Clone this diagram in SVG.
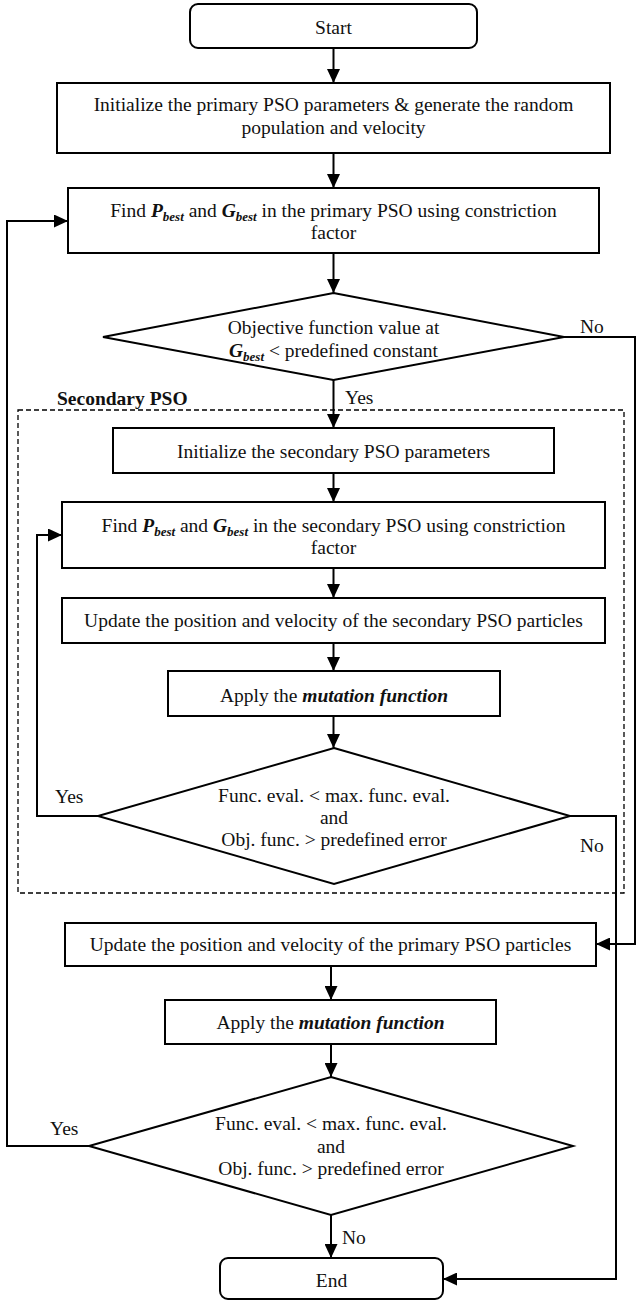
<svg xmlns="http://www.w3.org/2000/svg" width="638" height="1301" viewBox="0 0 638 1301">
<style>
.bx{fill:#fff;stroke:#000;stroke-width:2}
.cn{fill:none;stroke:#000;stroke-width:2}
.t{font-family:"Liberation Serif","Times New Roman",serif;font-size:19.5px;fill:#111;text-anchor:middle}
.l{font-family:"Liberation Serif","Times New Roman",serif;font-size:19.5px;fill:#111}
.bi{font-weight:bold;font-style:italic}
.sub{font-size:13px;font-weight:bold;font-style:italic}
.dash{fill:none;stroke:#000;stroke-width:1.3;stroke-dasharray:5,3}
</style>
<defs>
<marker id="ah" markerUnits="userSpaceOnUse" markerWidth="15" markerHeight="13" refX="14" refY="6.5" orient="auto">
<path d="M0,0 L14,6.5 L0,13 z" fill="#000"/>
</marker>
</defs>
<rect class="dash" x="18" y="410" width="606" height="483"/>
<text class="l" x="57" y="405" font-weight="bold">Secondary PSO</text>
<g id="connectors">
<path class="cn" d="M333.5,48 V83" marker-end="url(#ah)"/>
<path class="cn" d="M333.5,153 V188" marker-end="url(#ah)"/>
<path class="cn" d="M333.5,253 V293" marker-end="url(#ah)"/>
<path class="cn" d="M333.5,380 V428" marker-end="url(#ah)"/>
<path class="cn" d="M333.5,473 V502" marker-end="url(#ah)"/>
<path class="cn" d="M333.5,568 V598" marker-end="url(#ah)"/>
<path class="cn" d="M333.5,643 V671" marker-end="url(#ah)"/>
<path class="cn" d="M333.5,716 V748" marker-end="url(#ah)"/>
<path class="cn" d="M98,816 H37 V535 H62" marker-end="url(#ah)"/>
<path class="cn" d="M570,816 H616 V1279 H443" marker-end="url(#ah)"/>
<path class="cn" d="M564,337 H635 V944 H596" marker-end="url(#ah)"/>
<path class="cn" d="M331,966 V1000" marker-end="url(#ah)"/>
<path class="cn" d="M331,1044 V1077" marker-end="url(#ah)"/>
<path class="cn" d="M89,1146 H7 V221 H68" marker-end="url(#ah)"/>
<path class="cn" d="M331,1215 V1258" marker-end="url(#ah)"/>
<text class="l" x="580" y="333">No</text>
<text class="l" x="345" y="404">Yes</text>
<text class="l" x="55" y="803">Yes</text>
<text class="l" x="580" y="852">No</text>
<text class="l" x="50" y="1135">Yes</text>
<text class="l" x="342" y="1244">No</text>
</g>
<g id="start">
<rect class="bx" x="190" y="4" width="287" height="44" rx="8"/>
<text class="t" x="333.5" y="33.5">Start</text>
</g>
<g id="init-primary">
<rect class="bx" x="57" y="83" width="553" height="70"/>
<text class="t" x="333.5" y="110.5">Initialize the primary PSO parameters &amp; generate the random</text>
<text class="t" x="333.5" y="133.5">population and velocity</text>
</g>
<g id="find-primary">
<rect class="bx" x="68" y="188" width="531" height="65"/>
<text class="t" x="333.5" y="216.5">Find <tspan class="bi">P</tspan><tspan class="sub" dy="4">best</tspan><tspan dy="-4"> and </tspan><tspan class="bi">G</tspan><tspan class="sub" dy="4">best</tspan><tspan dy="-4"> in the primary PSO using constriction</tspan></text>
<text class="t" x="333.5" y="238.5">factor</text>
</g>
<g id="decision-objective">
<polygon class="bx" points="333.5,293 564,337 333.5,380 103,337"/>
<text class="t" x="333.5" y="333.5">Objective function value at</text>
<text class="t" x="333.5" y="356.5"><tspan class="bi">G</tspan><tspan class="sub" dy="4">best</tspan><tspan dy="-4"> &lt; predefined constant</tspan></text>
</g>
<g id="init-secondary">
<rect class="bx" x="113" y="428" width="441" height="45"/>
<text class="t" x="333.5" y="457.5">Initialize the secondary PSO parameters</text>
</g>
<g id="find-secondary">
<rect class="bx" x="62" y="502" width="543" height="66"/>
<text class="t" x="333.5" y="531.5">Find <tspan class="bi">P</tspan><tspan class="sub" dy="4">best</tspan><tspan dy="-4"> and </tspan><tspan class="bi">G</tspan><tspan class="sub" dy="4">best</tspan><tspan dy="-4"> in the secondary PSO using constriction</tspan></text>
<text class="t" x="333.5" y="553.5">factor</text>
</g>
<g id="update-secondary">
<rect class="bx" x="62" y="598" width="543" height="45"/>
<text class="t" x="333.5" y="626.5">Update the position and velocity of the secondary PSO particles</text>
</g>
<g id="mutation-secondary">
<rect class="bx" x="168" y="671" width="332" height="45"/>
<text class="t" x="334" y="701.5">Apply the <tspan class="bi">mutation function</tspan></text>
</g>
<g id="decision-secondary">
<polygon class="bx" points="334,748 570,816 334,884 98,816"/>
<text class="t" x="334" y="801.5">Func. eval. &lt; max. func. eval.</text>
<text class="t" x="334" y="823.5">and</text>
<text class="t" x="334" y="845.5">Obj. func. &gt; predefined error</text>
</g>
<g id="update-primary">
<rect class="bx" x="65" y="923" width="531" height="43"/>
<text class="t" x="330.5" y="950.5">Update the position and velocity of the primary PSO particles</text>
</g>
<g id="mutation-primary">
<rect class="bx" x="165" y="1000" width="331" height="44"/>
<text class="t" x="330.5" y="1028.5">Apply the <tspan class="bi">mutation function</tspan></text>
</g>
<g id="decision-primary">
<polygon class="bx" points="331,1077 573,1146 331,1215 89,1146"/>
<text class="t" x="331" y="1129.5">Func. eval. &lt; max. func. eval.</text>
<text class="t" x="331" y="1152.5">and</text>
<text class="t" x="331" y="1174.5">Obj. func. &gt; predefined error</text>
</g>
<g id="end">
<rect class="bx" x="220" y="1258" width="223" height="41" rx="8"/>
<text class="t" x="331.5" y="1286.5">End</text>
</g>
</svg>
